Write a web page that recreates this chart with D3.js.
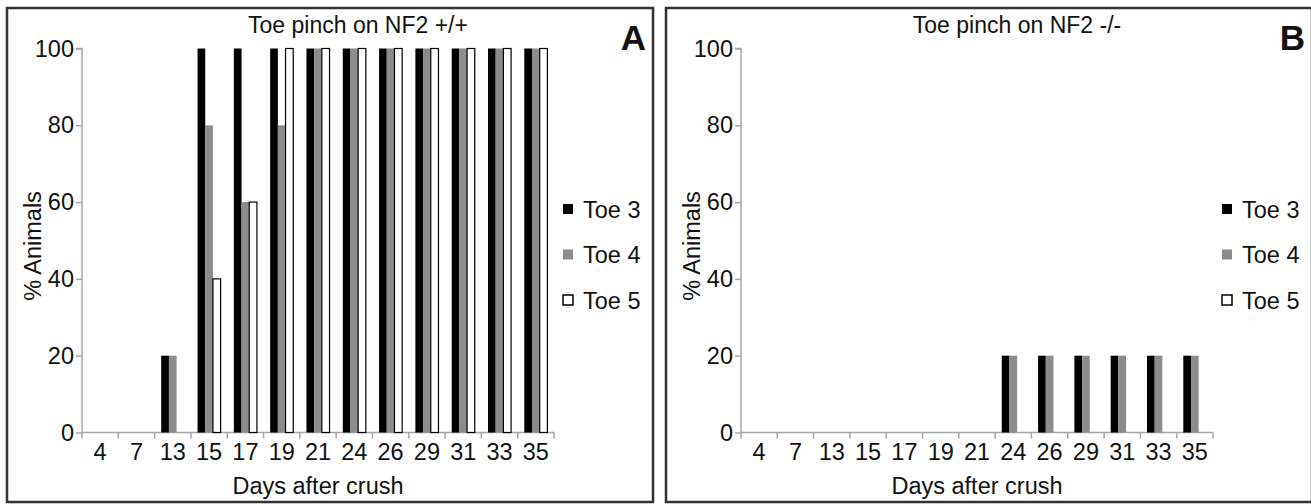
<!DOCTYPE html>
<meta charset="utf-8">
<style>
    body { margin: 0; background: #fff; }
    svg text { font-family: "Liberation Sans", Arial, sans-serif; fill: #111; }
    .axis path, .axis line { stroke: #a6a6a6; stroke-width: 1.5; }
    .axis text { font-size: 23.5px; }
</style>
<body>
<svg width="1311" height="504"></svg>
<script src="https://d3js.org/d3.v7.min.js"></script>
<script>
    // days after crush
    var days = ["4", "7", "13", "15", "17", "19", "21", "24", "26", "29", "31", "33", "35"];
    var series = ["Toe 3", "Toe 4", "Toe 5"];
    var yTicks = [0, 20, 40, 60, 80, 100];

    // NF2 +/+
    var toe3A = [0, 0, 20, 100, 100, 100, 100, 100, 100, 100, 100, 100, 100];
    var toe4A = [0, 0, 20, 80, 60, 80, 100, 100, 100, 100, 100, 100, 100];
    var toe5A = [0, 0, 0, 40, 60, 100, 100, 100, 100, 100, 100, 100, 100];

    // NF2 -/-
    var toe3B = [0, 0, 0, 0, 0, 0, 0, 20, 20, 20, 20, 20, 20];
    var toe4B = [0, 0, 0, 0, 0, 0, 0, 20, 20, 20, 20, 20, 20];
    var toe5B = [0, 0, 0, 0, 0, 0, 0, 0, 0, 0, 0, 0, 0];

    var fills = ["#000000", "#8c8c8c", "#ffffff"];
    var svg = d3.select("svg");

    function drawPanel(left, title, tag, values) {
        var g = svg.append("g").attr("transform", "translate(" + left + ",0)");

        g.append("rect")
            .attr("x", 0).attr("y", 8)
            .attr("width", 646).attr("height", 494)
            .attr("fill", "none")
            .attr("stroke", "#333")
            .attr("stroke-width", 2.5);

        var x = d3.scaleBand().domain(days).range([75, 547]).padding(0);
        var xs = d3.scaleBand().domain(series).range([0, x.bandwidth()])
            .paddingInner(0).paddingOuter(0.86);
        var y = d3.scaleLinear().domain([0, 100]).range([432.5, 48.5]);

        // y axis
        var ya = g.append("g").attr("class", "axis")
            .attr("transform", "translate(75,0)")
            .call(d3.axisLeft(y).tickValues(yTicks).tickSize(6).tickPadding(2));
        ya.select(".domain").attr("d", "M-6," + y(100) + "H0V" + y(0));

        // x axis
        var xa = g.append("g").attr("class", "axis")
            .attr("transform", "translate(0," + y(0) + ")")
            .call(d3.axisBottom(x).tickSize(0).tickPadding(11));
        xa.select(".domain").attr("d", "M75,0H547");
        xa.selectAll(".bound")
            .data(days.concat(["end"]))
            .enter().append("line")
            .attr("class", "bound")
            .attr("x1", function(d) { return d === "end" ? x.range()[1] : x(d); })
            .attr("x2", function(d) { return d === "end" ? x.range()[1] : x(d); })
            .attr("y1", 0).attr("y2", 6);

        // bars
        series.forEach(function(s, si) {
            g.append("g").selectAll("rect")
                .data(days.map(function(d, i) { return { day: d, v: values[si][i] }; })
                    .filter(function(d) { return d.v > 0; }))
                .enter().append("rect")
                .attr("x", function(d) { return x(d.day) + xs(s); })
                .attr("y", function(d) { return y(d.v); })
                .attr("width", xs.bandwidth())
                .attr("height", function(d) { return y(0) - y(d.v); })
                .attr("fill", fills[si])
                .attr("stroke", si === 2 ? "#000" : "none")
                .attr("stroke-width", 1.2);
        });

        // titles
        g.append("text")
            .attr("x", 351).attr("y", 33)
            .attr("text-anchor", "middle")
            .style("font-size", "23px")
            .text(title);
        g.append("text")
            .attr("x", 639).attr("y", 50)
            .attr("text-anchor", "end")
            .style("font-size", "35px")
            .style("font-weight", "bold")
            .text(tag);
        g.append("text")
            .attr("transform", "translate(34,246) rotate(-90)")
            .attr("text-anchor", "middle")
            .style("font-size", "23.5px")
            .text("% Animals");
        g.append("text")
            .attr("x", 311).attr("y", 494)
            .attr("text-anchor", "middle")
            .style("font-size", "23.5px")
            .text("Days after crush");

        // legend
        var lg = g.append("g").selectAll("g")
            .data(series)
            .enter().append("g")
            .attr("transform", function(d, i) { return "translate(556," + (209 + i * 45.5) + ")"; });
        lg.append("rect")
            .attr("x", 0).attr("y", -5)
            .attr("width", 10).attr("height", 10)
            .attr("fill", function(d, i) { return fills[i]; })
            .attr("stroke", function(d, i) { return i === 2 ? "#000" : "none"; })
            .attr("stroke-width", 1.5);
        lg.append("text")
            .attr("x", 20).attr("y", 8.5)
            .style("font-size", "23.5px")
            .text(function(d) { return d; });
    }

    drawPanel(7, "Toe pinch on NF2 +/+", "A", [toe3A, toe4A, toe5A]);
    drawPanel(666, "Toe pinch on NF2 -/-", "B", [toe3B, toe4B, toe5B]);
</script>
</body>
